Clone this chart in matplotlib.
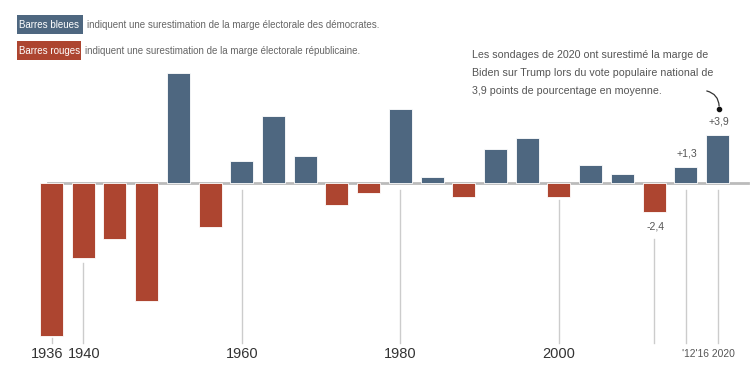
import matplotlib.pyplot as plt
from matplotlib.patches import FancyBboxPatch

plt.rcParams['font.family'] = ['Liberation Sans', 'DejaVu Sans']

# polling error per election year (positive = overstated Democrats)
years = [1936, 1940, 1944, 1948, 1952, 1956, 1960, 1964, 1968, 1972, 1976,
         1980, 1984, 1988, 1992, 1996, 2000, 2004, 2008, 2012, 2016, 2020]
errors = [-12.5, -6.1, -4.6, -9.6, 8.9, -3.6, 1.8, 5.4, 2.2, -1.8, -0.8,
          6.0, 0.5, -1.2, 2.7, 3.6, -1.2, 1.4, 0.7, -2.4, 1.3, 3.9]
big_ticks = ['1936', '1940', '1960', '1980', '2000']
small_ticks = ["'12'16", '2020']
value_labels = {2012: '-2,4', 2016: '+1,3', 2020: '+3,9'}

blue = '#4e6780'
red = '#ad4530'
grey_text = '#666666'

fig = plt.figure(figsize=(7.54, 3.81), dpi=100)
ax = fig.add_axes([0, 0, 1, 1])
ax.set_xlim(1929.5, 2024.6)
ax.set_ylim(-16.12, 14.85)
ax.axis('off')

colors = [blue if e > 0 else red for e in errors]
ax.bar(years, errors, width=2.9, color=colors, edgecolor='white',
       linewidth=0.6, zorder=3)

# zero line
ax.plot([1935.55, 2023.85], [0, 0], color='#bbbbbb', lw=2, zorder=2)

# tick guide lines (start just below the bar / label, end above the labels)
tick_lines = {1936: -12.6, 1940: -6.5, 1960: -0.6, 1980: -0.6, 2000: -1.4,
              2012: -4.6, 2016: -0.6, 2020: -0.6}
for yr, top in tick_lines.items():
    ax.plot([yr, yr], [top, -13.05], color='#cccccc', lw=1, zorder=1)

label_x = {'1936': 1935.4, '1940': 1940.1, '1960': 1960, '1980': 1980,
           '2000': 2000}
for lab in big_ticks:
    ax.text(label_x[lab], -13.95, lab, ha='center', va='center',
            fontsize=10.5, color='#333333')
ax.text(2018.8, -13.95, ' '.join(small_ticks), ha='center', va='center',
        fontsize=7.4, color='#555555')

# value labels
yi = dict(zip(years, errors))
for yr, lab in value_labels.items():
    v = yi[yr]
    off = 1.05 if v > 0 else -1.2
    ax.text(yr + 0.2, v + off, lab, ha='center', va='center', fontsize=7.6,
            color='#555555')

# legend boxes
def legend_box(y0, h, x0, x1, color, text, desc):
    fig.patches.append(FancyBboxPatch((x0 / 754, 1 - (y0 + h) / 381),
                                      (x1 - x0) / 754, h / 381,
                                      boxstyle='square,pad=0',
                                      transform=fig.transFigure,
                                      facecolor=color, edgecolor='none'))
    fig.text((x0 + 2) / 754, 1 - (y0 + h / 2) / 381, text, ha='left',
             va='center', fontsize=7, color='white')
    fig.text((x1 + 4) / 754, 1 - (y0 + h / 2) / 381, desc, ha='left',
             va='center', fontsize=7, color=grey_text)

legend_box(15, 19, 17, 83, blue, 'Barres bleues',
           'indiquent une surestimation de la marge électorale des démocrates.')
legend_box(41, 19, 17, 81, red, 'Barres rouges',
           'indiquent une surestimation de la marge électorale républicaine.')

# annotation
note = ['Les sondages de 2020 ont surestimé la marge de',
        'Biden sur Trump lors du vote populaire national de',
        '3,9 points de pourcentage en moyenne.']
for i, line in enumerate(note):
    fig.text(472 / 754, 1 - (55 + 18 * i) / 381, line, ha='left',
             va='center', fontsize=7.7, color='#555555')

ax.annotate('', xy=(2020.2, 6.0), xytext=(2018.3, 7.5),
            arrowprops=dict(arrowstyle='-', color='#333333', lw=0.9,
                            connectionstyle='arc3,rad=-0.45'))
ax.plot([2020.2], [6.0], 'o', color='#111111', ms=3)

fig.savefig('out.png', dpi=100, facecolor='white')
